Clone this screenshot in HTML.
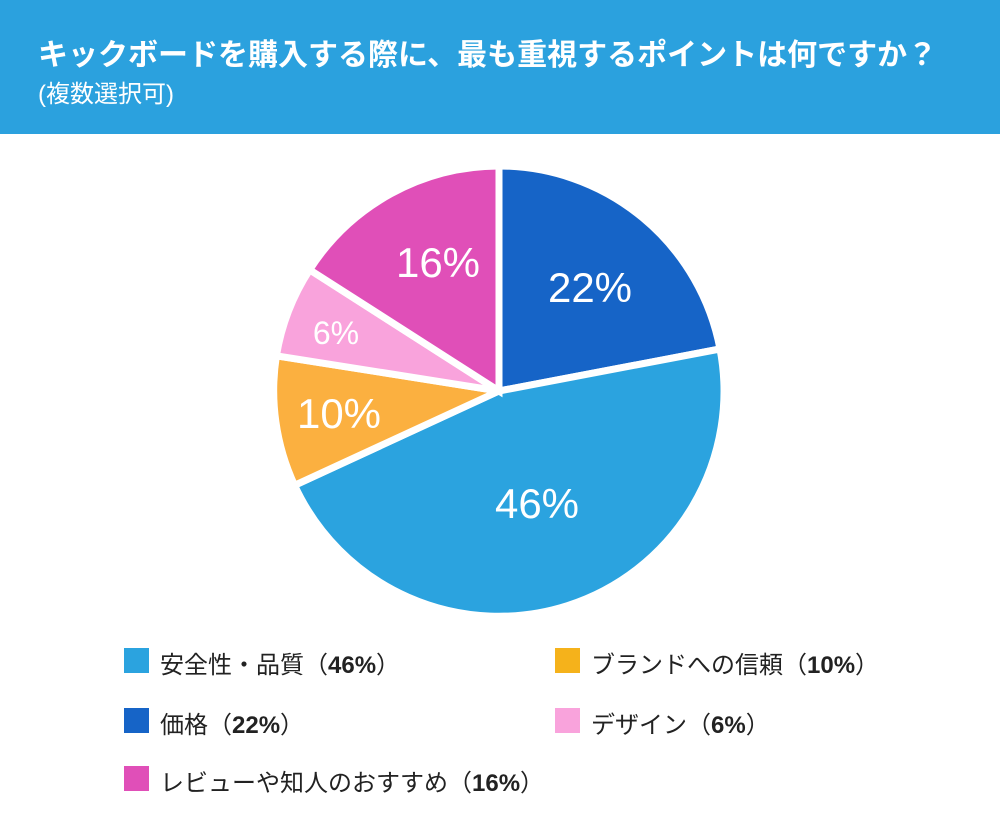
<!DOCTYPE html>
<html><head><meta charset="utf-8"><style>
body{margin:0;width:1000px;height:833px;background:#fff;font-family:"Liberation Sans","Noto Sans CJK JP",sans-serif;overflow:hidden;position:relative}
.hdr{position:absolute;left:0;top:0;width:1000px;height:134px;background:#2ba1de;color:#fff}
.t1{position:absolute;left:38px;top:30px;font-size:30px;font-weight:bold;white-space:nowrap}
.t2{position:absolute;left:38px;top:74px;font-size:24px}
.lg{position:absolute;font-size:24px;color:#222;white-space:nowrap}
.sq{position:absolute;width:25px;height:25px}
</style></head><body>
<div class="hdr"><div class="t1">キックボードを購入する際に、最も重視するポイントは何ですか？</div><div class="t2">(複数選択可)</div></div>
<svg width="1000" height="833" style="position:absolute;left:0;top:0">
<g stroke="#fff" stroke-width="7" stroke-linejoin="miter">
<path d="M499,391 L499,166 A225,225 0 0 1 720.0,349.0 Z" fill="#1664c7"/>
<path d="M499,391 L720.0,349.0 A225,225 0 0 1 294.6,485.3 Z" fill="#2ba3df"/>
<path d="M499,391 L294.6,485.3 A225,225 0 0 1 276.4,355.8 Z" fill="#fbb040"/>
<path d="M499,391 L276.4,355.8 A225,225 0 0 1 309.7,269.8 Z" fill="#f9a3dc"/>
<path d="M499,391 L309.7,269.8 A225,225 0 0 1 499,166 Z" fill="#e04fb8"/>
</g>
<g fill="#fff" font-family="Liberation Sans, sans-serif" text-anchor="middle">
<text x="590" y="302" font-size="42">22%</text>
<text x="537" y="518" font-size="42">46%</text>
<text x="339" y="428" font-size="42">10%</text>
<text x="336" y="344" font-size="32">6%</text>
<text x="438" y="277" font-size="42">16%</text>
</g>
</svg>
<div class="sq" style="left:124px;top:648px;background:#2ba3df"></div><div class="lg" style="left:160px;top:645px">安全性・品質（<b>46%</b>）</div>
<div class="sq" style="left:555px;top:648px;background:#f5b21b"></div><div class="lg" style="left:591px;top:645px">ブランドへの信頼（<b>10%</b>）</div>
<div class="sq" style="left:124px;top:708px;background:#1664c7"></div><div class="lg" style="left:160px;top:705px">価格（<b>22%</b>）</div>
<div class="sq" style="left:555px;top:708px;background:#f9a3dc"></div><div class="lg" style="left:591px;top:705px">デザイン（<b>6%</b>）</div>
<div class="sq" style="left:124px;top:766px;background:#e04fb8"></div><div class="lg" style="left:160px;top:763px">レビューや知人のおすすめ（<b>16%</b>）</div>
</body></html>
